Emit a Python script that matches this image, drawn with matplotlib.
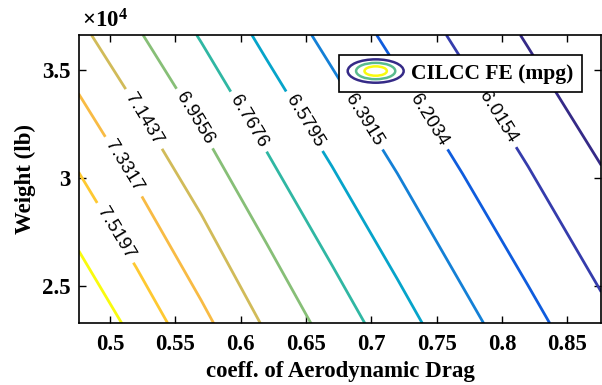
import numpy as np
import matplotlib
matplotlib.use('Agg')
import matplotlib.pyplot as plt
from matplotlib.colors import LinearSegmentedColormap
from matplotlib.patches import Ellipse
from matplotlib.legend_handler import HandlerBase
from matplotlib.lines import Line2D
from matplotlib.ticker import FuncFormatter

# values
drag_coeff = [0.476, 0.52, 0.57, 0.62, 0.67, 0.72, 0.77, 0.82, 0.876]
weight_lb = [23260, 36620]
fe_light = [7.882, 7.650, 7.381, 7.118, 6.878, 6.658, 6.452, 6.263, 6.062]
fe_heavy = [7.191, 6.980, 6.751, 6.529, 6.329, 6.145, 5.972, 5.808, 5.634]
fe_levels = [5.8274, 6.0154, 6.2034, 6.3915, 6.5795, 6.7676, 6.9556,
             7.1437, 7.3317, 7.5197, 7.7077]
x_ticks = [0.5, 0.55, 0.6, 0.65, 0.7, 0.75, 0.8, 0.85]
y_ticks = [25000, 30000, 35000]

# where the inline labels sit (drag, weight)
label_spots = [(0.5054, 27500), (0.5115, 30560), (0.526, 32730),
               (0.5619, 32640), (0.6047, 32550), (0.6468, 32550),
               (0.6934, 32640), (0.7431, 32640), (0.7951, 32730)]

parula = LinearSegmentedColormap.from_list('parula', [
    (0.2081, 0.1663, 0.5292), (0.2081, 0.2386, 0.6771),
    (0.0591, 0.3598, 0.8683), (0.0779, 0.5040, 0.8384),
    (0.0231, 0.6418, 0.7913), (0.1801, 0.7177, 0.6424),
    (0.5300, 0.7491, 0.4661), (0.8185, 0.7327, 0.3498),
    (0.9739, 0.7314, 0.2666), (0.9955, 0.7861, 0.1967),
    (0.9763, 0.9831, 0.0538)])

plt.rcParams['font.family'] = ['Liberation Serif', 'DejaVu Serif']
plt.rcParams['font.weight'] = 'bold'
plt.rcParams['mathtext.fontset'] = 'custom'
plt.rcParams['mathtext.rm'] = 'Liberation Serif'
plt.rcParams['mathtext.bf'] = 'Liberation Serif:bold'


class ContourIcon(HandlerBase):
    def create_artists(self, legend, orig_handle, xdescent, ydescent,
                       width, height, fontsize, trans):
        cx = width / 2 - xdescent
        cy = height / 2 - ydescent
        arts = []
        for s, c in zip([1.0, 0.7, 0.4], [parula(0.0), parula(0.55), parula(1.0)]):
            e = Ellipse((cx, cy), width * s, height * 1.55 * s, fill=False,
                        ec=c, lw=1.8, transform=trans)
            arts.append(e)
        return arts


fig = plt.figure(figsize=(6.02, 3.85), dpi=100)
ax = fig.add_axes([0.1312, 0.1603, 0.8671, 0.7488])

X, Y = np.meshgrid(drag_coeff, weight_lb)
Z = np.array([fe_light, fe_heavy])
cs = ax.contour(X, Y, Z, levels=fe_levels, cmap=parula,
                vmin=fe_levels[0], vmax=fe_levels[-1], linewidths=2.0)
labels = ax.clabel(cs, manual=label_spots, fmt='%.4f',
                   fontsize=13.5, colors='k', inline=True, inline_spacing=9)
for t in labels:
    t.set_fontfamily('Liberation Sans')
    t.set_fontweight('normal')

ax.set_xlim(0.4763, 0.8758)
ax.set_ylim(23260, 36620)
ax.set_xticks(x_ticks)
ax.set_yticks(y_ticks)
ax.xaxis.set_major_formatter(FuncFormatter(lambda v, p: f'{v:g}'))
ax.yaxis.set_major_formatter(FuncFormatter(lambda v, p: f'{v / 1e4:g}'))
ax.tick_params(direction='in', top=True, right=True, length=5, width=1,
               labelsize=16.5)
ax.tick_params(axis='x', pad=8)
ax.tick_params(axis='y', pad=6)
for sp in ax.spines.values():
    sp.set_linewidth(1.2)

ax.text(0.005, 1.008, r'$\mathbf{\times 10^{4}}$', transform=ax.transAxes,
        fontsize=16.5, va='bottom', ha='left')

ax.set_xlabel('coeff. of Aerodynamic Drag', fontsize=16.5, fontweight='bold', labelpad=4)
ax.set_ylabel('Weight (lb)', fontsize=16.5, fontweight='bold', labelpad=4)

proxy = Line2D([], [])
leg = ax.legend([proxy], ['CILCC FE (mpg)'], handler_map={proxy: ContourIcon()},
                loc='upper right', bbox_to_anchor=(0.964, 0.931), borderaxespad=0,
                fancybox=False, framealpha=1, edgecolor='k', handlelength=2.6,
                handletextpad=0.35, borderpad=0.4,
                prop={'family': 'Liberation Serif', 'weight': 'bold', 'size': 15.5})
leg.get_frame().set_linewidth(1.2)

fig.savefig('out.png', dpi=100)
